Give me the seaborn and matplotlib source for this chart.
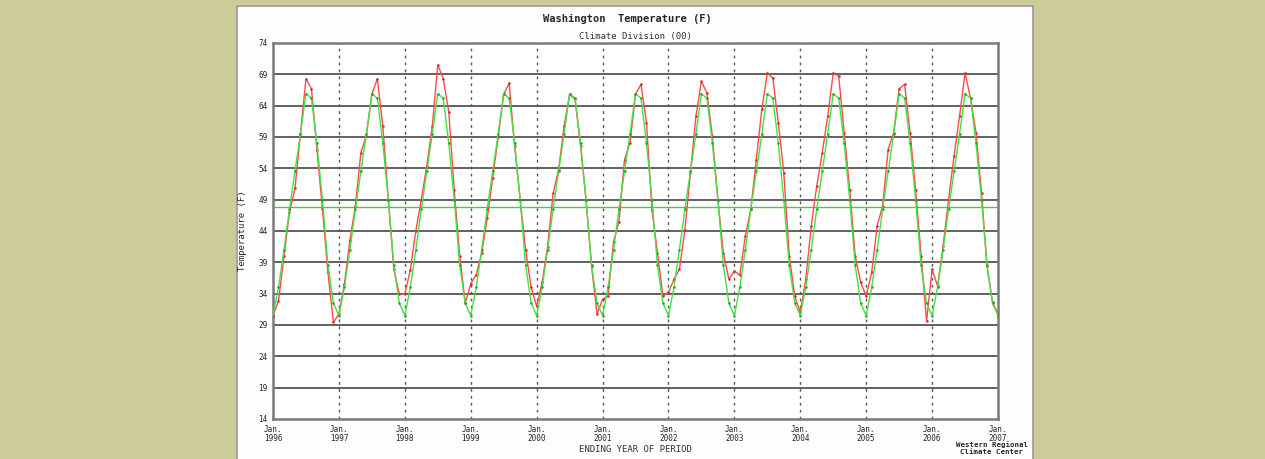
import numpy as np
import pandas as pd
import seaborn as sns
import matplotlib.pyplot as plt
from matplotlib.patches import Rectangle

# monthly values, Jan 1996 .. Jan 2007
years = list(range(1996, 2008))
normal_month = [30.5, 35.0, 41.0, 47.5, 53.5, 59.5, 65.9, 65.2, 58.0, 49.0, 38.5, 32.5]
mean_temp = 47.9

t1996 = [30.5, 32.8, 40.0, 47.0, 50.8, 59.5, 68.3, 66.7, 57.0, 47.5, 37.4, 29.4]
t1997 = [30.8, 35.5, 42.5, 48.0, 56.5, 59.2, 65.8, 68.3, 60.7, 49.0, 37.9, 33.9]
t1998 = [33.9, 37.8, 44.0, 49.0, 54.4, 60.7, 70.5, 68.3, 63.0, 50.5, 40.0, 32.5]
t1999 = [35.6, 37.0, 40.5, 46.0, 52.5, 59.0, 65.8, 67.6, 57.5, 49.0, 41.0, 35.0]
t2000 = [32.0, 35.8, 41.5, 50.0, 53.8, 60.7, 65.8, 65.0, 57.5, 48.9, 38.4, 30.7]
t2001 = [33.1, 33.6, 42.3, 45.5, 55.4, 58.1, 65.8, 67.4, 61.3, 47.4, 40.5, 33.6]
t2002 = [34.2, 36.3, 37.9, 44.2, 53.3, 62.3, 67.9, 66.0, 59.1, 49.0, 40.5, 36.3]
t2003 = [37.6, 37.0, 43.2, 47.5, 55.4, 63.4, 69.2, 68.4, 61.3, 53.3, 40.0, 33.6]
t2004 = [31.0, 36.3, 44.8, 51.2, 56.5, 62.3, 69.2, 68.7, 59.7, 50.6, 40.0, 35.8]
t2005 = [33.6, 37.4, 44.8, 48.0, 57.0, 59.7, 66.7, 67.4, 59.7, 50.6, 40.0, 29.6]
t2006 = [37.9, 35.2, 41.6, 49.0, 56.0, 62.3, 69.2, 65.2, 59.7, 50.1, 38.4, 32.6]
t2007 = [30.8]

yticks = [14, 19, 24, 29, 34, 39, 44, 49, 54, 59, 64, 69, 74]

actual = (t1996 + t1997 + t1998 + t1999 + t2000 + t2001 + t2002 + t2003
          + t2004 + t2005 + t2006 + t2007)
normal = normal_month * 11 + normal_month[:1]
xpos = [1996 + i / 12 for i in range(len(actual))]

df = pd.DataFrame({'x': xpos, 'actual': actual, 'normal': normal})

sns.set_style('white')
plt.rcParams['font.family'] = ['DejaVu Sans Mono']

fig = plt.figure(figsize=(12.65, 4.59), dpi=100, facecolor='#cccc99')
fig.patches.append(Rectangle((237 / 1265, -0.01), 796 / 1265, 1 - 6 / 459 + 0.01,
                             transform=fig.transFigure, facecolor='#fdfdfd',
                             edgecolor='#9a9a9a', linewidth=1.2, zorder=-10))

ax = fig.add_axes([273 / 1265, 1 - 419 / 459, 725 / 1265, 376 / 459])
ax.set_zorder(5)
ax.set_facecolor('white')

for yv in yticks[1:-1]:
    ax.axhline(yv, color='#555555', lw=1.3, zorder=1)
for yr in years[1:-1]:
    ax.axvline(yr, color='#555555', lw=1, ls=(0, (2, 3)), zorder=1)
ax.axhline(mean_temp, color='#44cc44', lw=1, zorder=2)

sns.lineplot(data=df, x='x', y='actual', ax=ax, color='#ff4a4a', lw=1,
             marker='o', markersize=1.8, markeredgewidth=0,
             markerfacecolor='#c03030', zorder=3)
sns.lineplot(data=df, x='x', y='normal', ax=ax, color='#44e044', lw=1,
             marker='o', markersize=1.8, markeredgewidth=0,
             markerfacecolor='#28a028', zorder=4)

ax.set_xlim(1996, 2007)
ax.set_ylim(14, 74)
ax.set_yticks(yticks)
ax.set_yticklabels([str(v) for v in yticks], fontsize=5.5)
ax.set_xticks(years)
ax.set_xticklabels(['Jan.\n%d' % y for y in years], fontsize=5.5, linespacing=1.1)
ax.tick_params(length=0, pad=4)
ax.set_xlabel('')
ax.set_ylabel('Temperature (F)', fontsize=6.5, labelpad=8)
for s in ax.spines.values():
    s.set_color('#7a7a7a')
    s.set_linewidth(1.8)

fig.text(627 / 1265, 1 - 19 / 459, 'Washington  Temperature (F)', ha='center',
         va='center', fontsize=7.5, fontweight='bold')
fig.text(635 / 1265, 1 - 36 / 459, 'Climate Division (00)', ha='center',
         va='center', fontsize=6.5, color='#333333')
fig.text(635 / 1265, 1 - 449 / 459, 'ENDING YEAR OF PERIOD', ha='center',
         va='center', fontsize=6.5, color='#333333')
fig.text(992 / 1265, 1 - 448 / 459, 'Western Regional\nClimate Center', ha='center',
         va='center', fontsize=5.3, fontweight='bold', linespacing=1.2)

fig.savefig('out.png', dpi=100, facecolor=fig.get_facecolor())
